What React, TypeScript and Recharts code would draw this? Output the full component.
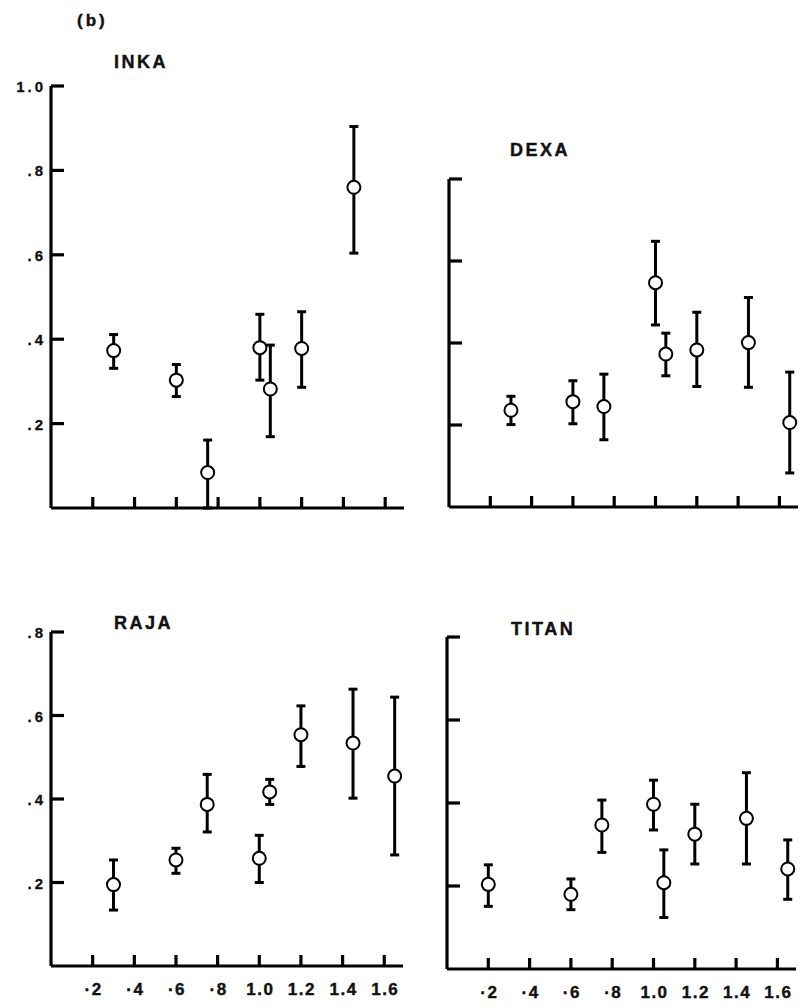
import React from 'react';
import { ScatterChart, Scatter, XAxis, YAxis, ErrorBar } from 'recharts';

// ---- data ----
const inkaX = [0.3, 0.6, 0.75, 1.0, 1.05, 1.2, 1.45];
const inkaMean = [0.373, 0.303, 0.084, 0.38, 0.282, 0.378, 0.76];
const inkaLow = [0.331, 0.264, 0.0, 0.303, 0.169, 0.286, 0.604];
const inkaHigh = [0.411, 0.34, 0.161, 0.459, 0.386, 0.465, 0.904];

const dexaX = [0.3, 0.6, 0.75, 1.0, 1.05, 1.2, 1.45, 1.65];
const dexaMean = [0.236, 0.257, 0.245, 0.547, 0.373, 0.383, 0.401, 0.206];
const dexaLow = [0.201, 0.203, 0.164, 0.444, 0.32, 0.294, 0.292, 0.083];
const dexaHigh = [0.27, 0.308, 0.324, 0.648, 0.424, 0.475, 0.511, 0.329];

const rajaX = [0.3, 0.6, 0.75, 1.0, 1.05, 1.2, 1.45, 1.65];
const rajaMean = [0.195, 0.254, 0.387, 0.258, 0.417, 0.554, 0.534, 0.455];
const rajaLow = [0.134, 0.222, 0.321, 0.2, 0.387, 0.478, 0.402, 0.266];
const rajaHigh = [0.254, 0.282, 0.459, 0.313, 0.447, 0.623, 0.663, 0.644];

const titanX = [0.2, 0.6, 0.75, 1.0, 1.05, 1.2, 1.45, 1.65];
const titanMean = [0.204, 0.18, 0.347, 0.397, 0.208, 0.325, 0.363, 0.241];
const titanLow = [0.151, 0.143, 0.281, 0.335, 0.124, 0.253, 0.253, 0.168];
const titanHigh = [0.251, 0.217, 0.407, 0.455, 0.287, 0.397, 0.473, 0.311];

const xTicks = [0.2, 0.4, 0.6, 0.8, 1.0, 1.2, 1.4, 1.6];
const xTickLabels = ['·2', '·4', '·6', '·8', '1.0', '1.2', '1.4', '1.6'];
const yTicksTop = [0.2, 0.4, 0.6, 0.8, 1.0];
const yTicksLow = [0.2, 0.4, 0.6, 0.8];
const yTickLabels: Record<string, string> = { '0.2': '.2', '0.4': '.4', '0.6': '.6', '0.8': '.8', '1': '1.0' };

const panelTitles = ['INKA', 'DEXA', 'RAJA', 'TITAN'];
const figureLabel = '(b)';

const build = (xs: number[], m: number[], lo: number[], hi: number[]) =>
  xs.map((x, i) => ({ x, y: m[i], err: [m[i] - lo[i], hi[i] - m[i]] }));

const FONT = '"Liberation Sans", Arial, sans-serif';

type PanelProps = {
  data: { x: number; y: number; err: number[] }[];
  x0: number; x1: number; yTop: number; yBot: number;
  xMax: number; yMax: number; yTicks: number[];
  showX: boolean; showY: boolean;
};

const Panel = ({ data, x0, x1, yTop, yBot, xMax, yMax, yTicks, showX, showY }: PanelProps) => {
  const W = x1 - x0 + 60;
  const H = yBot - yTop + 60;
  const XTick = (p: any) => {
    const idx = xTicks.indexOf(p.payload.value);
    return (
      <g>
        <line x1={p.x} x2={p.x} y1={p.y} y2={p.y - 11} stroke="#000" strokeWidth={3.2} />
        {showX && (
          <text x={p.x + 1} y={p.y + 29} textAnchor="middle" fontSize={17} fontWeight="bold" fontFamily={FONT} fill="#111" stroke="#111" strokeWidth={0.4} letterSpacing={1.5}>
            {xTickLabels[idx]}
          </text>
        )}
      </g>
    );
  };
  const YTick = (p: any) => (
    <g>
      <line x1={p.x} x2={p.x + 13} y1={p.y} y2={p.y} stroke="#000" strokeWidth={3.2} />
      {showY && (
        <text x={p.x - 5} y={p.y + 6} textAnchor="end" fontSize={15} fontWeight="bold" fontFamily={FONT} fill="#111" stroke="#111" strokeWidth={0.3} letterSpacing={3}>
          {yTickLabels[String(p.payload.value)]}
        </text>
      )}
    </g>
  );
  return (
    <div style={{ position: 'absolute', left: x0 - 50, top: yTop - 20 }}>
      <ScatterChart width={W} height={H} margin={{ top: 20, right: 10, bottom: 10, left: 10 }} style={{ overflow: 'visible' }}>
        <XAxis
          type="number" dataKey="x" domain={[0, xMax]} ticks={xTicks} interval={0}
          allowDataOverflow height={30} tickSize={0} tickMargin={0} tickLine={false}
          axisLine={{ stroke: '#000', strokeWidth: 3.2 }} tick={XTick}
        />
        <YAxis
          type="number" dataKey="y" domain={[0, yMax]} ticks={yTicks} interval={0}
          allowDataOverflow width={40} tickSize={0} tickMargin={0} tickLine={false}
          axisLine={{ stroke: '#000', strokeWidth: 3.2 }} tick={YTick}
        />
        <Scatter
          data={data} isAnimationActive={false}
          shape={(p: any) => <circle cx={p.cx} cy={p.cy} r={6.5} fill="#fff" stroke="#000" strokeWidth={2} />}
        >
          <ErrorBar dataKey="err" direction="y" width={4.5} stroke="#000" strokeWidth={3} isAnimationActive={false} />
        </Scatter>
      </ScatterChart>
    </div>
  );
};

const titleStyle = { fontSize: 18, fontWeight: 'bold' as const, fontFamily: FONT, fill: '#111', stroke: '#111', strokeWidth: 0.4, letterSpacing: 2.5 };

export default function App() {
  return (
    <div style={{ position: 'absolute', left: 0, top: 0, width: 802, height: 1008, background: '#fff' }}>
      <Panel data={build(inkaX, inkaMean, inkaLow, inkaHigh)} x0={51} x1={404} yTop={86} yBot={508} xMax={1.69} yMax={1.0} yTicks={yTicksTop} showX={false} showY={true} />
      <Panel data={build(dexaX, dexaMean, dexaLow, dexaHigh)} x0={449} x1={798} yTop={179} yBot={507} xMax={1.69} yMax={0.8} yTicks={yTicksLow} showX={false} showY={false} />
      <Panel data={build(rajaX, rajaMean, rajaLow, rajaHigh)} x0={51} x1={403} yTop={632} yBot={966} xMax={1.69} yMax={0.8} yTicks={yTicksLow} showX={true} showY={true} />
      <Panel data={build(titanX, titanMean, titanLow, titanHigh)} x0={447} x1={796} yTop={637} yBot={969} xMax={1.69} yMax={0.8} yTicks={yTicksLow} showX={true} showY={false} />
      <svg width={802} height={1008} style={{ position: 'absolute', left: 0, top: 0, pointerEvents: 'none' }}>
        <text x={77} y={26} fontSize={17} fontWeight="bold" fontFamily={FONT} fill="#111" stroke="#111" strokeWidth={0.4} letterSpacing={3}>{figureLabel}</text>
        <text x={114} y={68} {...titleStyle}>{panelTitles[0]}</text>
        <text x={510} y={156} {...titleStyle}>{panelTitles[1]}</text>
        <text x={114} y={629} {...titleStyle}>{panelTitles[2]}</text>
        <text x={511} y={635} {...titleStyle}>{panelTitles[3]}</text>
      </svg>
    </div>
  );
}
